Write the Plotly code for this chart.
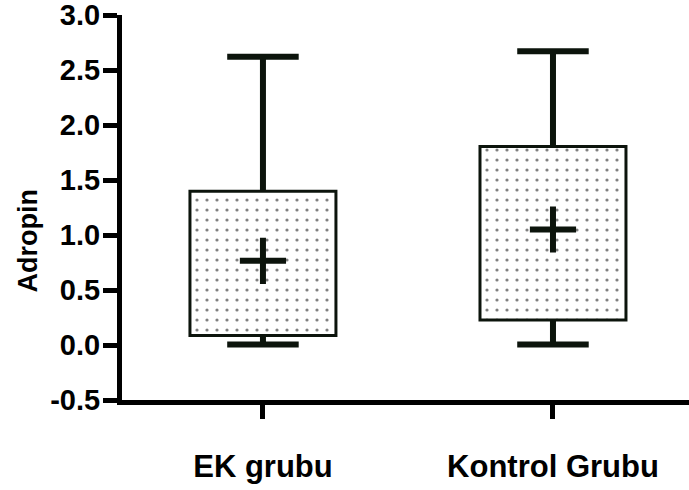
import plotly.graph_objects as go

categories = ["EK grubu", "Kontrol Grubu"]
lower_whisker = [0.005, 0.005]
q1 = [0.10, 0.24]
median = [0.45, 0.845]
q3 = [1.385, 1.79]
upper_whisker = [2.62, 2.67]
mean = [0.765, 1.05]

y_tick_vals = [-0.5, 0.0, 0.5, 1.0, 1.5, 2.0, 2.5, 3.0]
y_tick_text = ["-0.5", "0.0", "0.5", "1.0", "1.5", "2.0", "2.5", "3.0"]

INK = "#0c140c"
FONT = "Liberation Sans, Arial, sans-serif"
BOX_W = 0.493
pos = list(range(len(categories)))

fig = go.Figure()

# patterned fills of the boxes
for i, c in enumerate(pos):
    fig.add_trace(go.Scatter(
        x=[c - BOX_W / 2, c + BOX_W / 2, c + BOX_W / 2, c - BOX_W / 2, c - BOX_W / 2],
        y=[q1[i], q1[i], q3[i], q3[i], q1[i]],
        mode="lines", fill="toself", line=dict(width=0),
        fillcolor="white",
        fillpattern=dict(shape=".", size=10, solidity=0.08, fgcolor="#000000", bgcolor="white"),
        hoverinfo="skip", showlegend=False,
    ))

fig.add_trace(go.Box(
    x=pos, q1=q1, median=median, q3=q3,
    lowerfence=lower_whisker, upperfence=upper_whisker,
    width=BOX_W, whiskerwidth=0.5,
    line=dict(color=INK, width=6),
    fillcolor="rgba(0,0,0,0)",
    boxpoints=False, showlegend=False,
))

fig.add_trace(go.Scatter(
    x=pos, y=mean, mode="markers",
    marker=dict(symbol="cross-thin", size=33, line=dict(color=INK, width=6)),
    showlegend=False,
))

fig.add_annotation(
    text="Adropin", textangle=-90, xref="paper", yref="paper",
    x=-0.1658, y=0.4145, xanchor="center", yanchor="middle", showarrow=False,
    font=dict(family=FONT, size=27, color="black", weight="bold"),
)

fig.update_layout(
    width=689, height=490,
    margin=dict(l=122, r=0, t=15, b=90, pad=0),
    plot_bgcolor="white", paper_bgcolor="white",
    font=dict(family=FONT, size=30, color="black", weight="bold"),
    xaxis=dict(
        range=[-0.486, 1.469], tickvals=pos, ticktext=categories,
        showline=True, linewidth=5, linecolor="black",
        ticks="outside", ticklen=14, tickwidth=5, tickcolor="black",
        ticklabelstandoff=21, showgrid=False, zeroline=False, automargin=False,
        ticklabeloverflow="allow",
        tickfont=dict(family=FONT, size=31, weight="bold"),
    ),
    yaxis=dict(
        range=[-0.5, 3.0], tickvals=y_tick_vals, ticktext=y_tick_text,
        showline=True, linewidth=5, linecolor="black",
        ticks="outside", ticklen=14, tickwidth=5, tickcolor="black",
        ticklabelstandoff=-3, ticklabeloverflow="allow",
        showgrid=False, zeroline=False, automargin=False,
        tickfont=dict(family=FONT, size=29, weight="bold"),
    ),
)

fig.write_html(
    "out.html",
    config={"displayModeBar": False},
    post_script="document.body.style.margin='0';document.body.style.padding='0';",
)
